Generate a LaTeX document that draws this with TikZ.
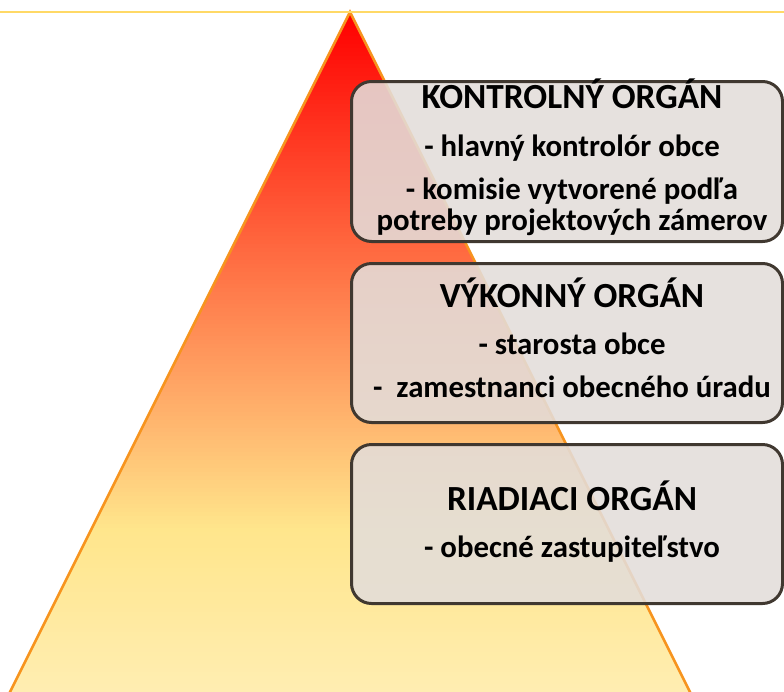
\documentclass[tikz,border=0pt]{standalone}
\usepackage{fontspec}
\setmainfont{Carlito}
\definecolor{triedge}{RGB}{247,148,30}
\definecolor{topline}{RGB}{255,217,102}
\definecolor{boxfill}{RGB}{227,221,218}
\definecolor{boxedge}{RGB}{64,56,48}
\tikzset{
  orgbox/.style={draw=boxedge, line width=3pt, fill=boxfill, fill opacity=0.88,
    rounded corners=20pt, rectangle, minimum width=431pt, inner sep=0pt},
  titletext/.style={anchor=base, font=\fontsize{35.3}{38}\selectfont\bfseries, text=black, inner sep=0pt},
  bodytext/.style={anchor=base, font=\fontsize{30.8}{34}\selectfont\bfseries, text=black, inner sep=0pt},
}
\begin{document}
\begin{tikzpicture}[x=1pt,y=-1pt]
\useasboundingbox (0,0) rectangle (784,691);
\clip (0,0) rectangle (784,691);
% gradient triangle
\begin{scope}
  \clip (350,12) -- (6,700) -- (694,700) -- cycle;
  \foreach \i in {0,...,172}{
    \pgfmathsetmacro{\py}{12+4*\i}
    \pgfmathsetmacro{\fa}{min(1,(\py-12)/515)}
    \pgfmathsetmacro{\fb}{max(0,min(1,(\py-527)/164))}
    \pgfmathtruncatemacro{\G}{230*\fa+8*\fb}
    \pgfmathtruncatemacro{\B}{140*\fa+38*\fb}
    \definecolor{stripc}{RGB}{255,\G,\B}
    \fill[stripc] (0,\py) rectangle (784,\py+4.6);
  }
\end{scope}
\draw[triedge, line width=2.6pt, line join=miter] (350,12) -- (6,700) -- (694,700) -- cycle;
% top line
\draw[topline, line width=2pt] (0,11.5) -- (784,11.5);
% boxes
\node[orgbox, minimum height=160pt] (b1) at (567,161.5) {};
\node[orgbox, minimum height=159pt] (b2) at (567,343) {};
\node[orgbox, minimum height=159pt] (b3) at (567,524) {};
% texts
\node[titletext] (t1) at (572,108) {KONTROLNÝ ORGÁN};
\node[bodytext] (t1a) at (572,156) {- hlavný kontrolór obce};
\node[bodytext] (t1b) at (572,199) {- komisie vytvorené podľa};
\node[bodytext] (t1c) at (572,230) {potreby projektových zámerov};
\node[titletext] (t2) at (572,307) {VÝKONNÝ ORGÁN};
\node[bodytext] (t2a) at (572,354) {- starosta obce};
\node[bodytext] (t2b) at (572,397) {-\ \ zamestnanci obecného úradu};
\node[titletext] (t3) at (572,510) {RIADIACI ORGÁN};
\node[bodytext] (t3a) at (572,557) {- obecné zastupiteľstvo};
\end{tikzpicture}
\end{document}
